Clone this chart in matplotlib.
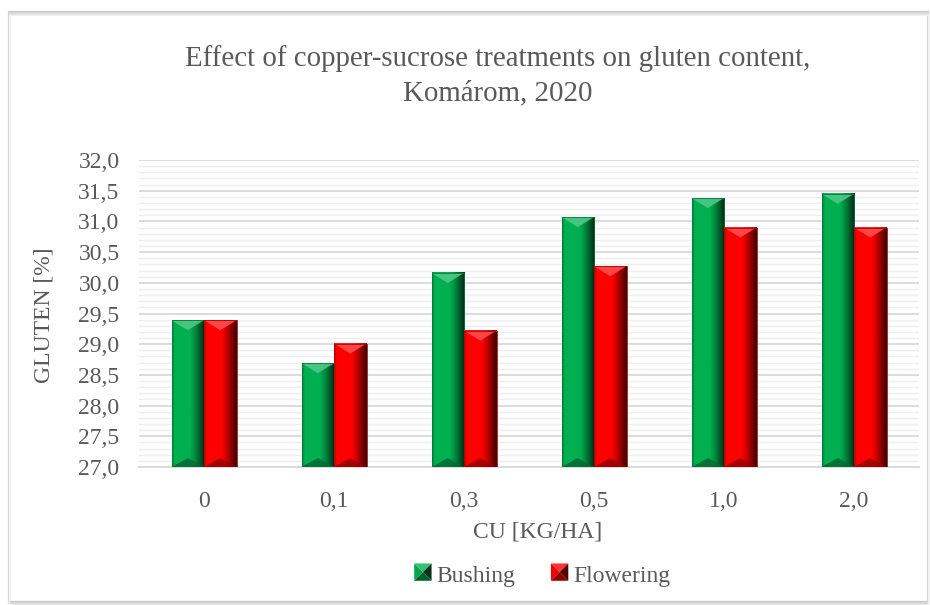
import numpy as np
import matplotlib
matplotlib.use("Agg")
import matplotlib.pyplot as plt
from matplotlib.colors import LinearSegmentedColormap, to_rgb
from matplotlib.patches import Polygon, Rectangle
from matplotlib.legend_handler import HandlerBase
from matplotlib.ticker import MultipleLocator

categories = ["0", "0,1", "0,3", "0,5", "1,0", "2,0"]
bushing = [29.39, 28.69, 30.16, 31.07, 31.38, 31.45]
flowering = [29.39, 29.01, 29.22, 30.27, 30.90, 30.90]
series_names = ["Bushing", "Flowering"]
series_colors = ["#00B050", "#FF0000"]
yticks = [27.0, 27.5, 28.0, 28.5, 29.0, 29.5, 30.0, 30.5, 31.0, 31.5, 32.0]

plt.rcParams["font.family"] = ["Liberation Serif", "DejaVu Serif"]
TXT = "#595959"
FS = 17

W, H = 930, 605
fig = plt.figure(figsize=(W / 100, H / 100), dpi=100)
fig.patch.set_facecolor("white")

# outer chart frame with soft shadow
for i, c in enumerate(["#c8c8c8", "#d8d8d8", "#e6e6e6", "#f0f0f0"]):
    fig.patches.append(Rectangle((9 / W, (H - 602 - i) / H),
                                 919 / W, 590 / H, transform=fig.transFigure,
                                 fill=False, edgecolor=c, lw=1.6 - i * 0.3, zorder=-10 + i))

ax = fig.add_axes([139 / W, (H - 467) / H, 780 / W, 307 / H])
ax.set_facecolor("none")
ax.set_ylim(27.0, 32.0)
ax.set_xlim(-0.5, len(categories) - 0.5)

ax.yaxis.set_major_locator(MultipleLocator(0.5))
ax.yaxis.set_minor_locator(MultipleLocator(0.1))
ax.set_yticks(yticks)
ax.set_yticklabels([f"{v:.1f}".replace(".", ",") for v in yticks])
ax.grid(True, which="major", axis="y", color="#d9d9d9", lw=1.3, zorder=0)
ax.grid(True, which="minor", axis="y", color="#eeeeee", lw=1.0, zorder=0)
ax.set_axisbelow(True)
for s in ax.spines.values():
    s.set_visible(False)
ax.spines["bottom"].set_visible(True)
ax.spines["bottom"].set_color("#d9d9d9")
ax.spines["bottom"].set_linewidth(1.3)
ax.tick_params(axis="both", which="both", length=0, labelsize=FS, labelcolor=TXT)
ax.tick_params(axis="y", pad=14)
ax.tick_params(axis="x", pad=17)
x = np.arange(len(categories))
ax.set_xticks(x)
ax.set_xticklabels(categories)

bw = 0.25
offsets = [-bw / 2, bw / 2]


def shade(col, f):
    r, g, b = to_rgb(col)
    if f <= 1:
        return (r * f, g * f, b * f)
    t = f - 1
    return (r + (1 - r) * t, g + (1 - g) * t, b + (1 - b) * t)


px_per_unit = 307 / 5.0
d = 10 / px_per_unit  # bevel depth in data units

for vals, col, off, name in zip([bushing, flowering], series_colors, offsets, series_names):
    bars = ax.bar(x + off, np.array(vals) - 27.0, bottom=27.0, width=bw, color=col,
                  zorder=2, label=name)
    cmap = LinearSegmentedColormap.from_list(
        "g", [(0.0, shade(col, 0.75)), (0.08, shade(col, 1.0)), (0.55, shade(col, 1.0)),
              (0.78, shade(col, 0.65)), (1.0, shade(col, 0.22))])
    grad = np.linspace(0, 1, 64).reshape(1, -1)
    for b in bars:
        x0, y0, w, h = b.get_x(), b.get_y(), b.get_width(), b.get_height()
        ax.imshow(grad, cmap=cmap, extent=[x0, x0 + w, y0, y0 + h], aspect="auto",
                  zorder=3, interpolation="bicubic")
        ax.add_patch(Polygon([[x0, y0 + h], [x0 + w, y0 + h], [x0 + w * 0.5, y0 + h - d]],
                             closed=True, facecolor=shade(col, 1.3), edgecolor="none",
                             zorder=4, alpha=0.9))
        ax.add_patch(Polygon([[x0, y0], [x0 + w, y0], [x0 + w * 0.5, y0 + d * 0.9]],
                             closed=True, facecolor=shade(col, 0.6), edgecolor="none",
                             zorder=4, alpha=0.85))
        ax.add_patch(Rectangle((x0, y0), w, h, fill=False, edgecolor=shade(col, 0.7),
                               lw=0.6, zorder=5))
    ax.set_xlim(-0.5, len(categories) - 0.5)
    ax.set_ylim(27.0, 32.0)


class BevelHandler(HandlerBase):
    def create_artists(self, legend, orig_handle, xdescent, ydescent, width, height,
                       fontsize, trans):
        col = orig_handle.get_facecolor()
        s = height * 1.05
        x0 = -xdescent + width - s
        y0 = -ydescent + (height - s) / 2 + 1
        cx, cy = x0 + s / 2, y0 + s / 2
        arts = []
        tris = [([x0, y0 + s], [x0 + s, y0 + s], shade(col, 1.2)),
                ([x0, y0], [x0, y0 + s], shade(col, 0.95)),
                ([x0 + s, y0], [x0 + s, y0 + s], shade(col, 0.3)),
                ([x0, y0], [x0 + s, y0], shade(col, 0.55))]
        for p1, p2, c in tris:
            arts.append(Polygon([p1, p2, [cx, cy]], closed=True, facecolor=c,
                                edgecolor="none", transform=trans))
        return arts


handles = [Rectangle((0, 0), 1, 1, facecolor=c) for c in series_colors]
leg = fig.legend(handles, series_names, loc="center", bbox_to_anchor=(542 / W, (H - 576) / H),
                 ncol=2, frameon=False, fontsize=FS, labelcolor=TXT,
                 handler_map={Rectangle: BevelHandler()}, handlelength=0.75,
                 handletextpad=0.2, columnspacing=1.5)

fig.text(498 / W, (H - 76) / H, "Effect of copper-sucrose treatments on gluten content,\nKomárom, 2020",
         ha="center", va="center", fontsize=20.8, color=TXT, linespacing=1.4)
fig.text(538 / W, (H - 532) / H, "CU [KG/HA]", ha="center", va="center", fontsize=FS, color=TXT)
fig.text(44 / W, (H - 315) / H, "GLUTEN [%]", ha="center", va="center", rotation=90,
         fontsize=FS, color=TXT)

fig.savefig("out.png", dpi=100, facecolor="white")
